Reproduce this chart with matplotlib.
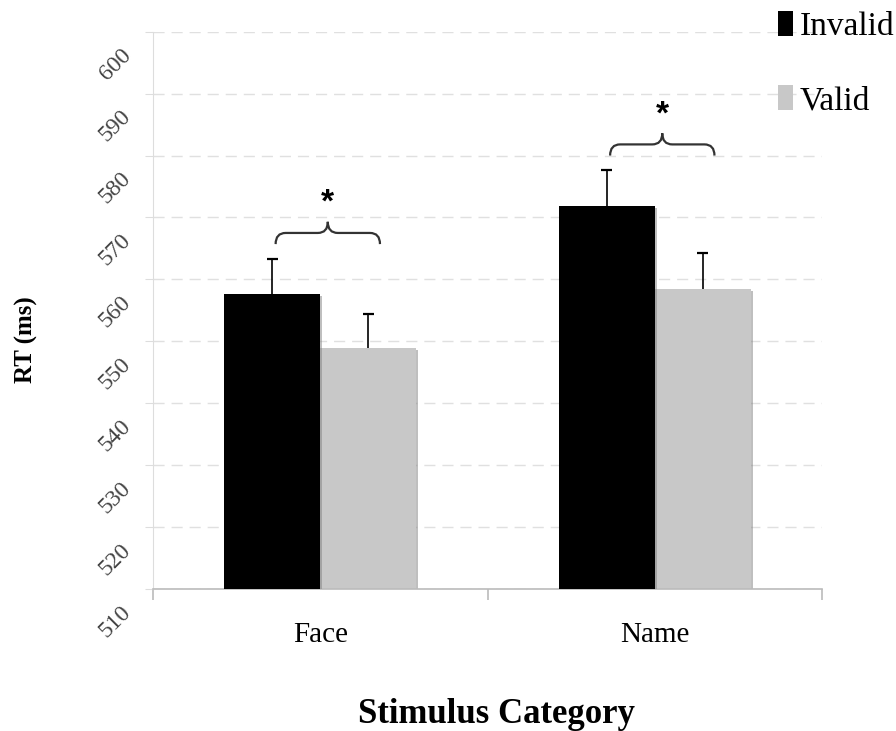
import numpy as np
import matplotlib
matplotlib.use("Agg")
import matplotlib.pyplot as plt
from matplotlib.patches import Patch, PathPatch
from matplotlib.path import Path
from matplotlib.transforms import ScaledTranslation
import matplotlib.patheffects as pe

categories = ["Face", "Name"]
invalid = [557.7, 571.8]
valid = [548.9, 558.4]
invalid_se = [5.6, 5.8]
valid_se = [5.5, 5.8]

plt.rcParams["font.family"] = ["Liberation Serif", "DejaVu Serif"]

fig = plt.figure(figsize=(8.96, 7.31), dpi=100)
ax = fig.add_axes([0.1708, 0.1943, 0.7466, 0.7623])

x = np.arange(len(categories))
w = 0.287
shadow = [pe.SimplePatchShadow(offset=(1.5, -1.5), shadow_rgbFace="#808080", alpha=0.5), pe.Normal()]
b1 = ax.bar(x - w / 2, invalid, w, color="black", zorder=3)
b2 = ax.bar(x + w / 2, valid, w, color="#c8c8c8", zorder=2)
for r in list(b1) + list(b2):
    r.set_path_effects(shadow)

# upper-only error bars
cap = 0.016
for xs, m, se in [(x - w / 2, invalid, invalid_se), (x + w / 2, valid, valid_se)]:
    tops = np.array(m) + np.array(se)
    ax.vlines(xs, m, tops, color="black", lw=1.2, zorder=4)
    ax.hlines(tops, xs - cap, xs + cap, color="black", lw=1.6, zorder=4)

ax.set_ylim(510, 600)
ax.set_xlim(-0.5, 1.5)
ax.set_yticks(np.arange(510, 601, 10))
ax.grid(axis="y", color="#e0e0e0", linewidth=1, dashes=(8, 5), zorder=0)
ax.set_axisbelow(True)

for s in ["top", "right"]:
    ax.spines[s].set_visible(False)
ax.spines["left"].set_color("#dddddd")
ax.spines["bottom"].set_color("#bbbbbb")
ax.spines["bottom"].set_linewidth(1.2)

ax.tick_params(axis="y", length=6, color="#dddddd", labelsize=17, labelcolor="#444444")
ax.set_yticklabels([str(v) for v in range(510, 601, 10)], rotation=45,
                   rotation_mode="anchor", ha="right", va="center")
off = ScaledTranslation(-0.12, -0.2, fig.dpi_scale_trans)
for lab in ax.get_yticklabels():
    lab.set_transform(lab.get_transform() + off)

ax.set_xticks(x)
ax.set_xticklabels(categories, fontsize=21)
ax.tick_params(axis="x", which="major", length=0, pad=24)
ax.set_xticks([-0.5, 0.5, 1.5], minor=True)
ax.tick_params(axis="x", which="minor", length=8, color="#bbbbbb", width=1.2)

ax.set_ylabel("RT (ms)", fontsize=18, fontweight="bold")
ax.yaxis.set_label_coords(-0.172, 0.447)
ax.set_xlabel("Stimulus Category", fontsize=25, fontweight="bold")
ax.xaxis.set_label_coords(0.513, -0.195)


def brace(xa, xb, y, h=1.8, r=0.03):
    xm = (xa + xb) / 2
    verts = [(xa, y), (xa, y + h), (xa + r, y + h),
             (xm - r, y + h), (xm, y + h), (xm, y + 2 * h),
             (xm, y + h), (xm + r, y + h),
             (xb - r, y + h), (xb, y + h), (xb, y)]
    codes = [Path.MOVETO, Path.CURVE3, Path.CURVE3,
             Path.LINETO, Path.CURVE3, Path.CURVE3,
             Path.CURVE3, Path.CURVE3,
             Path.LINETO, Path.CURVE3, Path.CURVE3]
    ax.add_patch(PathPatch(Path(verts, codes), fill=False, edgecolor="#333333", lw=1.6, zorder=4))
    ax.text(xm, y + 2 * h + 0.5, "*", ha="center", va="bottom", fontsize=24,
            family="Liberation Sans", fontweight="bold", zorder=4)


for i in range(len(categories)):
    top = max(invalid[i] + invalid_se[i], valid[i] + valid_se[i])
    brace(x[i] - w / 2 + 0.01, x[i] + w / 2 + 0.035, top + 2.4)

handles = [Patch(facecolor="black"), Patch(facecolor="#c8c8c8")]
fig.legend(handles, ["Invalid", "Valid"], loc="upper right", bbox_to_anchor=(1.02, 1.012),
           frameon=False, fontsize=24, handlelength=0.45, handleheight=0.75,
           handletextpad=0.2, labelspacing=1.3, borderaxespad=0.2)

fig.savefig("out.png", dpi=100)
